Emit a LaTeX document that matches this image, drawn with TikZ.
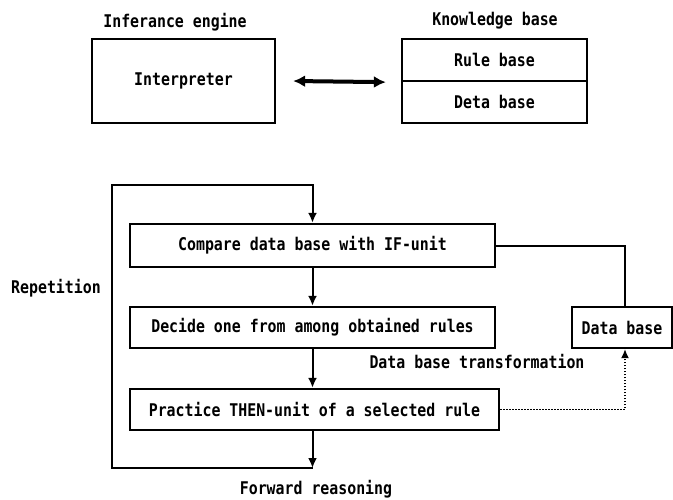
\documentclass[tikz,border=0pt]{standalone}
\usepackage{fontspec}
\setmainfont{DejaVu Sans Mono}[FakeStretch=0.85]
\usetikzlibrary{arrows.meta}
\begin{document}
\begin{tikzpicture}[x=1pt,y=-1pt,
  font=\fontsize{17.5}{20}\selectfont\bfseries,
  box/.style={draw, line width=2.3pt, inner sep=0pt},
  lbl/.style={inner sep=0pt},
  conn/.style={line width=2pt},
  tip/.style={-{Latex[length=10pt,width=9pt]}},
  dotconn/.style={line width=1.4pt, dash pattern=on 1.5pt off 1.5pt}]
\useasboundingbox (0,0) rectangle (673,499);
% top part
\node[lbl] (ie) at (175,22) {Inferance engine};
\node[box, minimum width=183pt, minimum height=84pt] (interp) at (183.5,81) {Interpreter};
\node[lbl] (kb) at (495,21) {Knowledge base};
\node[box, minimum width=185pt, minimum height=42pt] (rule) at (494.5,60) {Rule base};
\node[box, minimum width=185pt, minimum height=42pt] (kbdata) at (494.5,102) {Deta base};
\coordinate (a1) at ([xshift=17pt]interp.east);
\coordinate (a2) at ([xshift=-15pt]rule.south west);
\draw[line width=4pt, {Latex[length=12pt,width=12pt]}-{Latex[length=12pt,width=12pt]}] (a1) -- (a2);
% bottom part
\node[box, minimum width=365pt, minimum height=43pt] (compare) at (312.5,245.5) {Compare data base with IF-unit};
\node[box, minimum width=365pt, minimum height=41pt] (decide) at (312.5,327.5) {Decide one from among obtained rules};
\node[box, minimum width=369pt, minimum height=41pt] (practice) at (314.5,409.5) {Practice THEN-unit of a selected rule};
\node[box, minimum width=100pt, minimum height=41pt] (db) at (622,327.5) {Data base};
\node[lbl] (rep) at (56,288) {Repetition};
\node[lbl] (dbt) at (477,362) {Data base transformation};
\node[lbl] (fr) at (316,489) {Forward reasoning};
\coordinate (lb) at (312.5,468);
\coordinate (lbl) at (112,468);
\coordinate (ltl) at (112,185);
\coordinate (ltr) at (312.5,185);
\coordinate (rv) at (625,0);
\draw[conn,tip] (compare.south) -- (decide.north);
\draw[conn,tip] (decide.south) -- (decide.south |- practice.north);
\draw[conn,tip] (decide.south |- practice.south) -- (lb);
\draw[conn,tip] (lb) -- (lbl) -- (ltl) -- (ltr) -- (compare.north);
\draw[conn] (compare.east) -- (compare.east -| rv) -- (db.north -| rv);
\draw[dotconn,-{Latex[length=9pt,width=8pt]}] (practice.east) -- (practice.east -| rv) -- (db.south -| rv);
\end{tikzpicture}
\end{document}
